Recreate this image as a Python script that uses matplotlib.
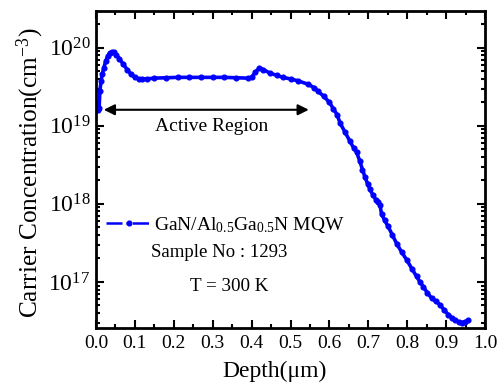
import matplotlib
matplotlib.use("Agg")
import matplotlib.pyplot as plt
from matplotlib.lines import Line2D
from matplotlib.ticker import MultipleLocator, LogLocator, NullFormatter, FixedLocator

plt.rcParams['font.family'] = ['Liberation Serif', 'DejaVu Serif']
plt.rcParams['mathtext.fontset'] = 'custom'
plt.rcParams['mathtext.rm'] = 'Liberation Serif'
plt.rcParams['mathtext.it'] = 'Liberation Serif:italic'

depth = [0.006, 0.008, 0.010, 0.013, 0.016, 0.020, 0.025, 0.030, 0.035, 0.040, 0.046, 0.052,
         0.060, 0.070, 0.080, 0.090, 0.100, 0.110, 0.117, 0.130, 0.150, 0.180, 0.210, 0.240,
         0.270, 0.300, 0.330, 0.360, 0.390, 0.400, 0.410, 0.420, 0.430, 0.447, 0.465, 0.480,
         0.500, 0.520, 0.546, 0.560, 0.571, 0.585, 0.600, 0.610, 0.620, 0.627, 0.640, 0.653,
         0.662, 0.670, 0.678, 0.685, 0.691, 0.698, 0.704, 0.712, 0.720, 0.726, 0.730, 0.734,
         0.742, 0.751, 0.762, 0.773, 0.786, 0.799, 0.812, 0.824, 0.833, 0.841, 0.852, 0.863,
         0.874, 0.884, 0.895, 0.906, 0.915, 0.923, 0.932, 0.940, 0.948, 0.957]
log_conc = [19.20, 19.23, 19.45, 19.57, 19.66, 19.74, 19.83, 19.89, 19.93, 19.945, 19.94, 19.91,
            19.86, 19.79, 19.72, 19.66, 19.62, 19.60, 19.60, 19.60, 19.61, 19.615, 19.62, 19.62,
            19.62, 19.62, 19.62, 19.615, 19.61, 19.62, 19.69, 19.74, 19.72, 19.675, 19.645, 19.62,
            19.60, 19.575, 19.53, 19.49, 19.44, 19.38, 19.30, 19.22, 19.14, 19.04, 18.92, 18.80,
            18.72, 18.66, 18.55, 18.44, 18.35, 18.26, 18.19, 18.11, 18.05, 18.02, 17.99, 17.87,
            17.79, 17.71, 17.60, 17.49, 17.38, 17.28, 17.17, 17.07, 17.00, 16.94, 16.86, 16.79,
            16.75, 16.71, 16.64, 16.58, 16.54, 16.51, 16.49, 16.48, 16.49, 16.51]
conc = [10 ** v for v in log_conc]

y_ticks = [1e17, 1e18, 1e19, 1e20]
y_tick_labels = [r'10$^{17}$', r'10$^{18}$', r'10$^{19}$', r'10$^{20}$']
legend_label = r'GaN/Al$_{0.5}$Ga$_{0.5}$N MQW'
blue = '#0000ff'

fig = plt.figure(figsize=(4.98, 3.87), dpi=100)
ax = fig.add_axes([96/498, 1 - 328/387, (485-96)/498, (328-11)/387])

ax.plot(depth, conc, color=blue, linestyle='-', linewidth=2.6, marker='o',
        markersize=3.4)
ax.set_yscale('log')
ax.set_xlim(0.0, 1.0)
ax.set_ylim(10 ** 16.41, 10 ** 20.47)

ax.xaxis.set_major_locator(MultipleLocator(0.1))
ax.xaxis.set_minor_locator(MultipleLocator(0.05))
ax.yaxis.set_major_locator(FixedLocator(y_ticks))
ax.yaxis.set_minor_locator(LogLocator(base=10, subs=range(2, 10), numticks=20))
ax.yaxis.set_minor_formatter(NullFormatter())
ax.set_yticklabels(y_tick_labels)

ax.tick_params(which='both', direction='in', top=True, right=True, width=1.5)
ax.tick_params(which='major', length=6, labelsize=14, pad=5)
ax.tick_params(which='minor', length=3)
ax.tick_params(axis='y', which='major', labelsize=17, pad=4)
for s in ax.spines.values():
    s.set_linewidth(2)

ax.set_xlabel(u'Depth(\u03bcm)', fontsize=17)
ax.xaxis.set_label_coords(0.458, -0.105)
ax.set_ylabel(r'Carrier Concentration(cm$^{-3}$)', fontsize=18.3)
ax.yaxis.set_label_coords(-0.128, 0.49)

ax.annotate('', xy=(0.020, 10 ** 19.205), xytext=(0.547, 10 ** 19.205),
            arrowprops=dict(arrowstyle='<|-|>', color='black', lw=1.5,
                            mutation_scale=16, shrinkA=0, shrinkB=0))
ax.text(0.296, 10 ** 18.99, 'Active Region', fontsize=14, ha='center', va='center')

handle = Line2D([], [], color=blue, linestyle='-.', linewidth=1.8, marker='o', markersize=3.4)
ax.legend([handle], [legend_label], loc='center left', bbox_to_anchor=(-0.018, 0.326),
          frameon=False, fontsize=14, handlelength=2.3, handletextpad=0.15,
          markerscale=1.0, numpoints=1)
ax.text(0.141, 10 ** 17.375, 'Sample No : 1293', fontsize=13.5, ha='left', va='center')
ax.text(0.242, 10 ** 16.94, 'T = 300 K', fontsize=13.8, ha='left', va='center')

fig.savefig('out.png', dpi=100)
